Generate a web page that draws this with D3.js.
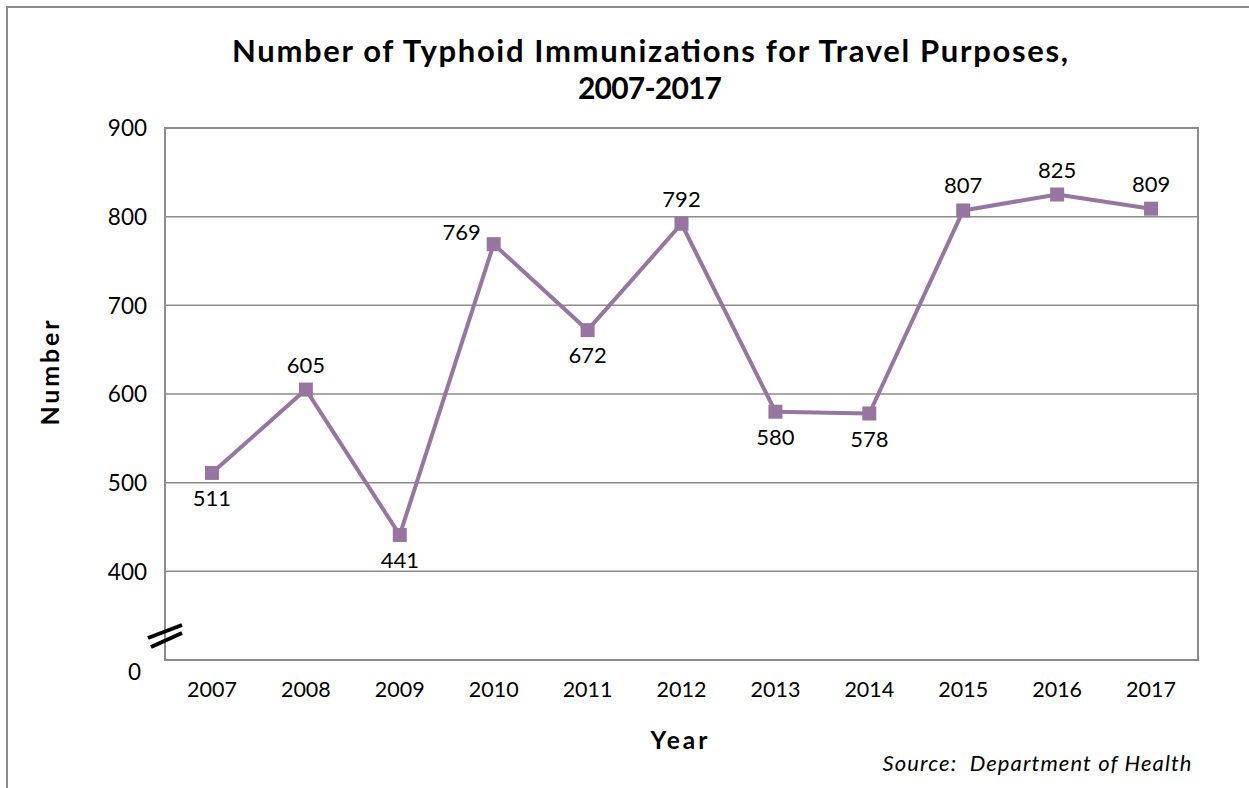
<!DOCTYPE html>
<html>
<head>
<meta charset="utf-8">
<script src="https://cdn.jsdelivr.net/npm/d3@7/dist/d3.min.js"></script>
<style>
    body { margin: 0; background: #fff; }
    text { font-family: Lato, "Open Sans", sans-serif; fill: #000; }
</style>
</head>
<body>
<div id="view"></div>
<script>
var years = ['2007', '2008', '2009', '2010', '2011', '2012', '2013', '2014', '2015', '2016', '2017'];
var values = [511, 605, 441, 769, 672, 792, 580, 578, 807, 825, 809];
// where each value label sits relative to its marker
var labelPos = ['below', 'above', 'below', 'left', 'below', 'above', 'below', 'below', 'above', 'above', 'above'];
var yTicks = [300, 400, 500, 600, 700, 800, 900];
var yTickLabels = ['0', '400', '500', '600', '700', '800', '900'];

var W = 1249, H = 788;
var plot = {left: 165, right: 1198, top: 128, bottom: 660};
var purple = '#9676a1';

var svg = d3.select('#view').append('svg')
    .attr('width', W)
    .attr('height', H);

// outer frame, running off the right and bottom edges
svg.append('path')
    .attr('d', `M7,${H + 5} V7 H${W + 5}`)
    .attr('fill', 'none')
    .attr('stroke', '#8c8c8c')
    .attr('stroke-width', 2);

var x = d3.scaleBand().domain(years).range([plot.left, plot.right]);
var y = d3.scaleLinear().domain([300, 900]).range([plot.bottom, plot.top]);

// gridlines
svg.selectAll('line.grid')
    .data(yTicks.slice(1, -1))
    .enter()
    .append('line')
    .attr('class', 'grid')
    .attr('x1', plot.left)
    .attr('x2', plot.right)
    .attr('y1', d => y(d))
    .attr('y2', d => y(d))
    .attr('stroke', '#8c8c8c')
    .attr('stroke-width', 1.5);

svg.append('rect')
    .attr('x', plot.left)
    .attr('y', plot.top)
    .attr('width', plot.right - plot.left)
    .attr('height', plot.bottom - plot.top)
    .attr('fill', 'none')
    .attr('stroke', '#8c8c8c')
    .attr('stroke-width', 2);

// y axis labels
var yAxis = d3.axisLeft(y)
    .tickValues(yTicks)
    .tickFormat((d, i) => yTickLabels[i])
    .tickSize(0)
    .tickPadding(18);
var gy = svg.append('g')
    .attr('transform', `translate(${plot.left}, 0)`)
    .call(yAxis);
gy.select('.domain').remove();
gy.selectAll('text')
    .attr('font-size', 22.5)
    .attr('dy', '0.35em')
    .style('font-family', 'Lato, sans-serif');
gy.selectAll('.tick').filter(d => d === 300)
    .select('text')
    .attr('dy', '0.85em')
    .attr('dx', -6);

// x axis labels
var xAxis = d3.axisBottom(x).tickSize(0).tickPadding(22);
var gx = svg.append('g')
    .attr('transform', `translate(0, ${plot.bottom})`)
    .call(xAxis);
gx.select('.domain').remove();
gx.selectAll('text')
    .attr('font-size', 21.5)
    .style('font-family', 'Lato, sans-serif');

// axis break marks
var brk = svg.append('g').attr('transform', `translate(${plot.left - 1}, ${plot.bottom - 28})`);
[0, 1].forEach(i => {
    brk.append('line')
        .attr('x1', -16 + i * 3)
        .attr('y1', 6 + i * 9)
        .attr('x2', 18)
        .attr('y2', -7 + i * 8)
        .attr('stroke', '#000')
        .attr('stroke-width', 4);
});

// the series
var line = d3.line()
    .x((d, i) => x(years[i]) + x.bandwidth() / 2)
    .y(d => y(d));

svg.append('path')
    .datum(values)
    .attr('d', line)
    .attr('fill', 'none')
    .attr('stroke', purple)
    .attr('stroke-width', 4)
    .attr('stroke-linejoin', 'round');

svg.selectAll('rect.marker')
    .data(values)
    .enter()
    .append('rect')
    .attr('class', 'marker')
    .attr('x', (d, i) => x(years[i]) + x.bandwidth() / 2 - 7)
    .attr('y', d => y(d) - 7)
    .attr('width', 14)
    .attr('height', 14)
    .attr('fill', purple);

svg.selectAll('text.value')
    .data(values)
    .enter()
    .append('text')
    .attr('class', 'value')
    .attr('font-size', 22)
    .attr('text-anchor', 'middle')
    .attr('x', (d, i) => {
        var cx = x(years[i]) + x.bandwidth() / 2;
        return labelPos[i] === 'left' ? cx - 32 : cx;
    })
    .attr('y', (d, i) => {
        var cy = y(d);
        if (labelPos[i] === 'above') return cy - 17;
        if (labelPos[i] === 'below') return cy + 33;
        return cy - 4;
    })
    .text(d => d);

// titles; textLength stretches them to the width of the original face
function label(txt, px, py, size, len, extra) {
    var t = svg.append('text')
        .attr('x', px)
        .attr('y', py)
        .attr('text-anchor', 'middle')
        .attr('font-size', size)
        .attr('textLength', len)
        .attr('lengthAdjust', 'spacing')
        .text(txt);
    if (extra) extra(t);
    return t;
}
var bold = t => t.attr('font-weight', 'bold');

label('Number of Typhoid Immunizations for Travel Purposes,', 650, 62, 31, 836, bold);
label('2007-2017', 650, 99, 30, 144, bold);
label('Year', 679, 749, 24.5, 57, bold);
label('Number', 0, 0, 25, 105, bold)
    .attr('transform', 'translate(59, 373) rotate(-90)');
label('Source:  Department of Health', 1037, 771, 22, 309,
    t => t.attr('font-style', 'italic').style('white-space', 'pre'));
</script>
</body>
</html>
